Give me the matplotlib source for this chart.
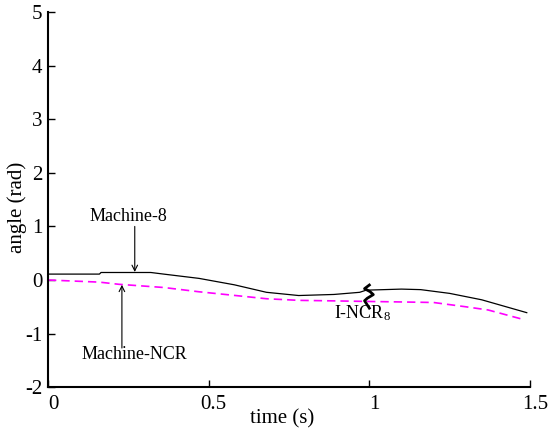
import matplotlib
matplotlib.use("Agg")
import matplotlib.pyplot as plt
import matplotlib.transforms as mtransforms
import numpy as np

# Data
t_m8 = [0.0, 0.16, 0.165, 0.32, 0.36, 0.47, 0.58, 0.68, 0.78, 0.89, 0.97, 0.99, 1.10, 1.16, 1.25, 1.35, 1.49]
y_m8 = [0.11, 0.11, 0.14, 0.14, 0.11, 0.03, -0.09, -0.23, -0.29, -0.27, -0.23, -0.19, -0.17, -0.18, -0.25, -0.37, -0.61]

t_ncr = [0.0, 0.16, 0.22, 0.36, 0.47, 0.60, 0.68, 0.78, 0.89, 0.99, 1.10, 1.20, 1.30, 1.37, 1.475]
y_ncr = [0.0, -0.04, -0.08, -0.14, -0.22, -0.30, -0.35, -0.38, -0.39, -0.40, -0.41, -0.42, -0.50, -0.56, -0.73]

xticks = [0, 0.5, 1, 1.5]
xticklabels = ["0", "0.5", "1", "1.5"]
yticks = [-2, -1, 0, 1, 2, 3, 4, 5]
yticklabels = ["-2", "-1", "0", "1", "2", "3", "4", "5"]

plt.rcParams['font.family'] = ['Liberation Serif', 'DejaVu Serif']
plt.rcParams['mathtext.fontset'] = 'custom'
plt.rcParams['mathtext.rm'] = 'Liberation Serif'
plt.rcParams['mathtext.it'] = 'Liberation Serif:italic'

fig = plt.figure(figsize=(5.48, 4.34), dpi=100)
ax = fig.add_axes([0.0876, 0.108, 0.8795, 0.864])

ax.plot(t_m8, y_m8, color='black', lw=0.9)
ax.plot(t_ncr, y_ncr, color='#ff00ff', lw=1.2, ls=(0, (5, 3)))

ax.set_xlim(0, 1.5)
ax.set_ylim(-2, 5)
ax.set_xticks(xticks)
ax.set_xticklabels(xticklabels)
ax.set_yticks(yticks)
ax.set_yticklabels(yticklabels)
ax.tick_params(direction='in', length=5, width=1, labelsize=15)
ax.tick_params(axis='x', pad=6)
ax.tick_params(axis='y', pad=4)
for lab in ax.get_xticklabels():
    lab.set_transform(lab.get_transform() + mtransforms.ScaledTranslation(0.05, 0, fig.dpi_scale_trans))
ax.spines['top'].set_visible(False)
ax.spines['right'].set_visible(False)
ax.spines['left'].set_linewidth(1.5)
ax.spines['bottom'].set_linewidth(1.5)

ax.set_xlabel("time (s)", fontsize=15)
ax.set_ylabel("angle (rad)", fontsize=15)
ax.xaxis.set_label_coords(0.485, -0.058)
ax.yaxis.set_label_coords(-0.043, 0.48)

arrow = dict(arrowstyle='->', color='black', lw=0.8, shrinkA=0, shrinkB=0)
ax.annotate("", xy=(0.27, 0.15), xytext=(0.27, 1.0), arrowprops=arrow)
ax.text(0.25, 1.18, "Machine-8", fontsize=13, ha='center', va='center')
ax.annotate("", xy=(0.23, -0.09), xytext=(0.23, -1.27), arrowprops=arrow)
ax.text(0.27, -1.40, "Machine-NCR", fontsize=13, ha='center', va='center')

# I-NCR8 squiggle marker (shape offsets in pixels around an anchor in data coords)
anchor_t, anchor_y = 0.99, -0.32
sq_x = 1.2 * np.array([2.7, -1.3, 3.3, 6.0, 1.0, -1.3, 2.7])
sq_y = 1.1 * np.array([-11.0, -7.7, -5.0, -2.3, 1.0, 3.3, 10.0])
pts_disp = ax.transData.transform((anchor_t, anchor_y))
xs = pts_disp[0] + sq_x
ys = pts_disp[1] - sq_y
dd = ax.transData.inverted().transform(np.column_stack([xs, ys]))
ax.plot(dd[:, 0], dd[:, 1], color='black', lw=2.0, solid_joinstyle='round')
ax.text(0.98, -0.62, "I-NCR$_{8}$", fontsize=13, ha='center', va='center')

fig.savefig("out.png", dpi=100)
